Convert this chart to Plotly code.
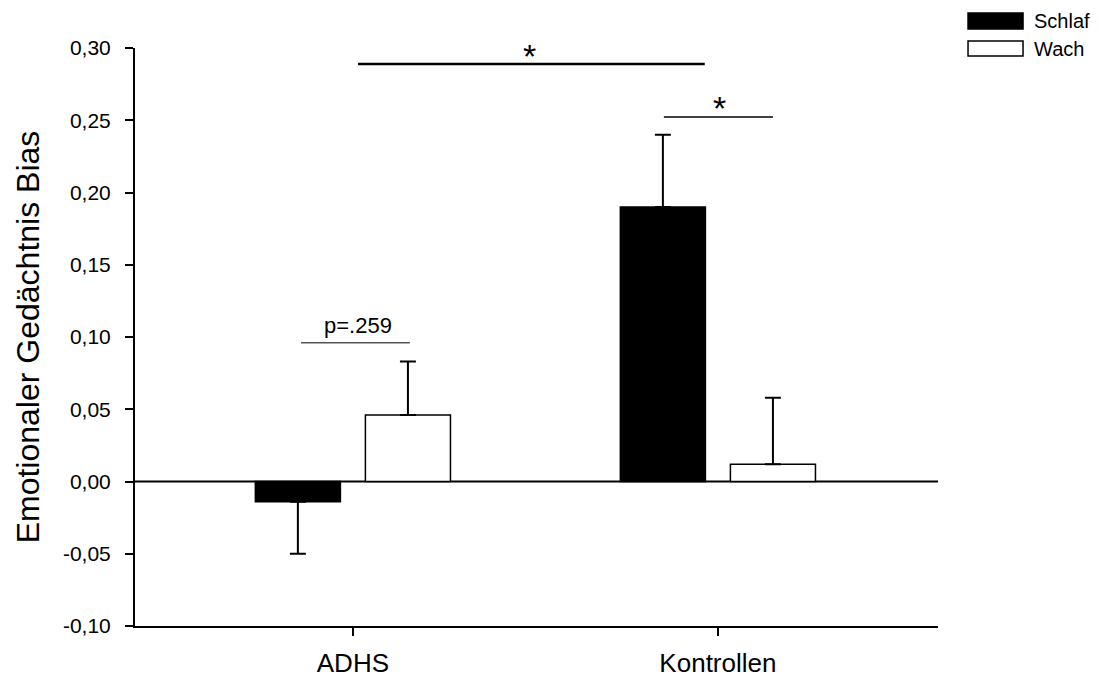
import plotly.graph_objects as go

groups = ["ADHS", "Kontrollen"]
schlaf = [-0.014, 0.190]
schlaf_err = [0.036, 0.050]
wach = [0.046, 0.012]
wach_err = [0.037, 0.046]
series_names = ["Schlaf", "Wach"]
y_ticks = [-0.10, -0.05, 0.0, 0.05, 0.10, 0.15, 0.20, 0.25, 0.30]
y_tick_labels = ["-0,10", "-0,05", "0,00", "0,05", "0,10", "0,15", "0,20", "0,25", "0,30"]

FONT = "Liberation Sans, Arial, sans-serif"


def one_sided(vals, errs):
    up = [e if v >= 0 else 0 for v, e in zip(vals, errs)]
    down = [e if v < 0 else 0 for v, e in zip(vals, errs)]
    return up, down


s_up, s_down = one_sided(schlaf, schlaf_err)
w_up, w_down = one_sided(wach, wach_err)

fig = go.Figure()
fig.add_trace(go.Bar(
    x=groups, y=schlaf, name=series_names[0],
    marker=dict(color="black", line=dict(color="black", width=1.5)),
    error_y=dict(type="data", symmetric=False, array=s_up, arrayminus=s_down,
                 color="black", thickness=2, width=8),
))
fig.add_trace(go.Bar(
    x=groups, y=wach, name=series_names[1],
    marker=dict(color="white", line=dict(color="black", width=1.5)),
    error_y=dict(type="data", symmetric=False, array=w_up, arrayminus=w_down,
                 color="black", thickness=2, width=8),
))

shapes = [
    # zero line
    dict(type="line", xref="paper", yref="y", x0=0, x1=1, y0=0, y1=0,
         line=dict(color="black", width=2), layer="below"),
    # significance lines
    dict(type="line", xref="x", yref="y", x0=0.014, x1=0.964, y0=0.2889, y1=0.2889,
         line=dict(color="black", width=2.5)),
    dict(type="line", xref="x", yref="y", x0=0.852, x1=1.151, y0=0.2523, y1=0.2523,
         line=dict(color="black", width=1.5)),
    dict(type="line", xref="x", yref="y", x0=-0.142, x1=0.156, y0=0.096, y1=0.096,
         line=dict(color="#555555", width=1.5)),
    # legend boxes
    dict(type="rect", xref="paper", yref="paper", x0=1.0374, x1=1.1059, y0=1.0329, y1=1.0606,
         fillcolor="black", line=dict(color="black", width=1.5)),
    dict(type="rect", xref="paper", yref="paper", x0=1.0374, x1=1.1059, y0=0.9862, y1=1.0121,
         fillcolor="white", line=dict(color="black", width=1.5)),
]

annotations = [
    dict(x=0.485, y=0.2945, xref="x", yref="y", text="*", showarrow=False,
         font=dict(size=34, color="black", family=FONT)),
    dict(x=1.005, y=0.2585, xref="x", yref="y", text="*", showarrow=False,
         font=dict(size=34, color="black", family=FONT)),
    dict(x=0.015, y=0.1083, xref="x", yref="y", text="p=.259", showarrow=False,
         font=dict(size=22, color="black", family=FONT)),
    dict(x=1.117, y=1.0467, xref="paper", yref="paper", text=series_names[0], showarrow=False,
         xanchor="left", yanchor="middle", font=dict(size=20, color="black", family=FONT)),
    dict(x=1.117, y=0.9991, xref="paper", yref="paper", text=series_names[1], showarrow=False,
         xanchor="left", yanchor="middle", font=dict(size=20, color="black", family=FONT)),
]

# page body has an 8px margin: compensate so the plot area lands at 135..938 x 48..626
fig.update_layout(
    width=1091, height=670,
    margin=dict(l=127, r=161, t=40, b=52),
    paper_bgcolor="white", plot_bgcolor="white",
    barmode="group", bargap=0.397, bargroupgap=0.227,
    showlegend=False,
    font=dict(family=FONT, color="black"),
    shapes=shapes, annotations=annotations,
    xaxis=dict(
        range=[-0.597, 1.603], showline=True, linecolor="black", linewidth=2,
        ticks="outside", ticklen=8, tickwidth=1.5, tickcolor="black",
        ticklabelstandoff=5, tickfont=dict(size=26, family=FONT),
        showgrid=False, zeroline=False, automargin=False,
    ),
    yaxis=dict(
        range=[-0.10, 0.30], tickvals=y_ticks, ticktext=y_tick_labels,
        showline=True, linecolor="black", linewidth=2,
        ticks="outside", ticklen=8, tickwidth=1.5, tickcolor="black",
        ticklabelstandoff=10, tickfont=dict(size=21, family=FONT),
        showgrid=False, zeroline=False, automargin=False,
        title=dict(text="Emotionaler Gedächtnis Bias", font=dict(size=32, family=FONT), standoff=14),
    ),
)

fig.write_html("out.html")
